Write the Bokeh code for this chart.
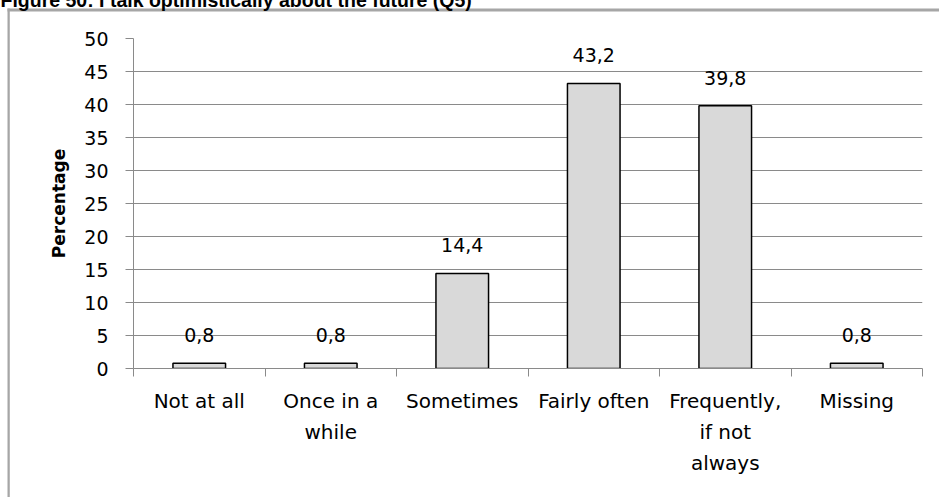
from bokeh.plotting import figure
from bokeh.models import Range1d, FixedTicker, Label
from bokeh.core.properties import value
from bokeh.embed import file_html
from bokeh.resources import INLINE

# --- data -------------------------------------------------------------
categories = ["Not at all", "Once in a while", "Sometimes", "Fairly often",
              "Frequently, if not always", "Missing"]
tick_labels = ["Not at all", "Once in a\nwhile", "Sometimes", "Fairly often",
               "Frequently,\nif not\nalways", "Missing"]
percentages = [0.8, 0.8, 14.4, 43.2, 39.8, 0.8]
y_ticks = [0, 5, 10, 15, 20, 25, 30, 35, 40, 45, 50]
title_text = "Figure 50: I talk optimistically about the future (Q5)"

# --- layout -----------------------------------------------------------
W, H = 939, 497
M_LEFT, M_RIGHT, M_TOP, M_BOTTOM = 133, 17, 38, 129
Y_MAX = 50
GRID = "#8a8a8a"
BORDER = "#a6a6a6"
FONT = "DejaVu Sans"

x_pos = [i + 0.5 for i in range(len(categories))]
value_text = [f"{v:.1f}".replace(".", ",") for v in percentages]

# helpers converting page pixels to data coordinates of the frame
PX_X = (W - M_LEFT - M_RIGHT) / len(categories)
PX_Y = (H - M_TOP - M_BOTTOM) / Y_MAX


def dx(px):
    return (px - M_LEFT) / PX_X


def dy(py):
    return Y_MAX - (py - M_TOP) / PX_Y


p = figure(width=W, height=H, x_range=Range1d(0, len(categories)),
           y_range=Range1d(0, Y_MAX), output_backend="svg", toolbar_location=None,
           min_border_left=M_LEFT, min_border_right=M_RIGHT,
           min_border_top=M_TOP, min_border_bottom=M_BOTTOM)
p.outline_line_color = None
p.background_fill_color = "white"
p.border_fill_color = "white"

# bars and value labels
p.vbar(x=x_pos, top=percentages, width=0.4, fill_color="#d9d9d9",
       line_color="black", line_width=1.5)
p.text(x=x_pos, y=percentages, text=value_text, text_align="center",
       text_baseline="alphabetic", y_offset=-28, text_font=value(FONT),
       text_font_size="19px", text_color="black")

# x axis: boundary ticks as minor ticks, category names at centres
xa = p.xaxis[0]
xa.ticker = FixedTicker(ticks=x_pos, minor_ticks=list(range(len(categories) + 1)))
xa.major_label_overrides = {x: t for x, t in zip(x_pos, tick_labels)}
xa.major_tick_line_color = None
xa.minor_tick_line_color = GRID
xa.minor_tick_out = 8
xa.minor_tick_in = 0
xa.axis_line_color = GRID
xa.major_label_text_font = FONT
xa.major_label_text_font_size = "20px"
xa.major_label_text_color = "black"
xa.major_label_text_line_height = 1.3
xa.major_label_standoff = 12

# y axis
ya = p.yaxis[0]
ya.ticker = FixedTicker(ticks=y_ticks)
ya.axis_line_color = GRID
ya.major_tick_line_color = GRID
ya.major_tick_out = 8
ya.major_tick_in = 0
ya.minor_tick_line_color = None
ya.major_label_text_font = FONT
ya.major_label_text_font_size = "19px"
ya.major_label_text_color = "black"
ya.major_label_standoff = 17
ya.axis_label = "Percentage"
ya.axis_label_text_font = FONT
ya.axis_label_text_font_style = "bold"
ya.axis_label_text_font_size = "17px"
ya.axis_label_text_color = "black"
ya.axis_label_standoff = 12

p.xgrid.grid_line_color = None
p.ygrid.grid_line_color = GRID
p.ygrid.grid_line_width = 1

# chart border: left and top edges as thin filled label boxes
border_top = Label(x=dx(7), y=dy(8), text=" ", anchor="top_left",
                   text_font_size="1px", text_color=BORDER,
                   padding=dict(left=0, right=1400, top=1, bottom=1),
                   background_fill_color=BORDER, background_fill_alpha=1.0,
                   border_line_color=None)
p.add_layout(border_top, "above")
border_left = Label(x=dx(7), y=dy(8), text=" ", anchor="top_left",
                    text_font_size="1px", text_color=BORDER,
                    padding=dict(left=1, right=1, top=0, bottom=800),
                    background_fill_color=BORDER, background_fill_alpha=1.0,
                    border_line_color=None)
p.add_layout(border_left, "right")

# figure caption, partly above the page edge
caption = Label(x=dx(0), y=dy(-1), text=title_text, anchor="center_left",
                text_font="Liberation Sans", text_font_style="bold",
                text_font_size="19.5px", text_color="black")
p.add_layout(caption, "above")

open("out.html", "w").write(file_html(p, INLINE))
